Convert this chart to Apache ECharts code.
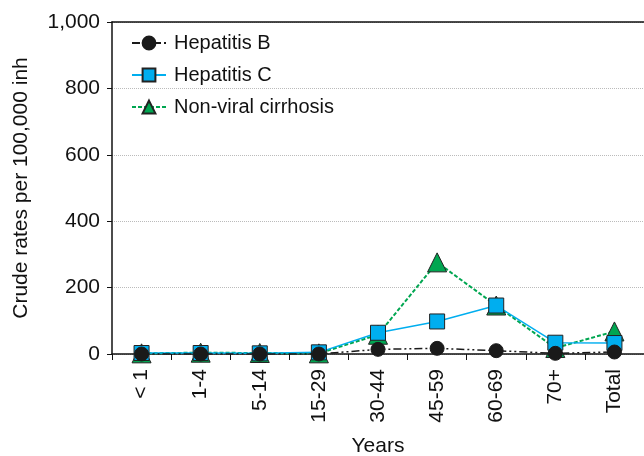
<!DOCTYPE html>
<html>
<head>
<meta charset="utf-8">
<script src="https://cdn.jsdelivr.net/npm/echarts@6/dist/echarts.min.js"></script>
<style>
  html, body { margin: 0; padding: 0; background: #fff; }
  #chart { width: 644px; height: 456px; }
</style>
</head>
<body>
<div id="chart"></div>
<script>
// age groups on the x axis
const categories = ['< 1', '1-4', '5-14', '15-29', '30-44', '45-59', '60-69', '70+', 'Total']

// crude rates per 100,000 inhabitants
const hepatitisB = [0, 0, 0, 0, 14, 17, 10, 2, 6]
const hepatitisC = [3, 3, 2, 5, 64, 98, 146, 34, 33]
const nonViral = [2, 4, 3, 2, 58, 276, 146, 18, 68]

const yTicks = [0, 200, 400, 600, 800, 1000]

const font = 'Liberation Sans, Arial, sans-serif'

const chart = echarts.init(document.getElementById('chart'))

const option = {
  animation: false,
  textStyle: { fontFamily: font },
  grid: { left: 112, right: 0, top: 22, bottom: 102, outerBoundsMode: 'none', containLabel: false },
  legend: {
    data: ['Hepatitis B', 'Hepatitis C', 'Non-viral cirrhosis'],
    orient: 'vertical',
    left: 126,
    top: 28,
    itemGap: 12,
    itemWidth: 34,
    itemHeight: 16,
    textStyle: { fontSize: 20, lineHeight: 20, color: '#111', fontFamily: font, padding: [0, 0, 0, 3] }
  },
  xAxis: [
    {
      type: 'category',
      data: categories,
      name: 'Years',
      nameLocation: 'middle',
      nameGap: 82,
      nameTextStyle: { fontSize: 21, color: '#111' },
      axisLine: { lineStyle: { color: '#111', width: 1.5 } },
      axisTick: { show: true, length: 6, lineStyle: { color: '#111' } },
      axisLabel: { rotate: 90, fontSize: 21, color: '#111', margin: 15 }
    },
    {
      type: 'category',
      position: 'top',
      data: categories,
      axisLine: { lineStyle: { color: '#111', width: 1.5 } },
      axisTick: { show: false },
      axisLabel: { show: false }
    }
  ],
  yAxis: {
    type: 'value',
    min: yTicks[0],
    max: yTicks[yTicks.length - 1],
    interval: 200,
    name: 'Crude rates per 100,000 inh',
    nameLocation: 'middle',
    nameGap: 80,
    nameTextStyle: { fontSize: 21, color: '#111' },
    axisLine: { show: true, lineStyle: { color: '#111', width: 1.5 } },
    axisTick: { show: true, length: 5, lineStyle: { color: '#111' } },
    axisLabel: {
      fontSize: 21,
      color: '#111',
      margin: 12,
      formatter: v => v.toLocaleString('en-US')
    },
    splitLine: { show: true, lineStyle: { color: '#bbb', type: 'dotted', width: 1 } }
  },
  series: [
    {
      name: 'Non-viral cirrhosis',
      type: 'line',
      data: nonViral,
      symbol: 'triangle',
      symbolSize: 19,
      itemStyle: { color: '#00a651', borderColor: '#222', borderWidth: 1 },
      lineStyle: { color: '#00a651', width: 2, type: [4, 2] },
      z: 2
    },
    {
      name: 'Hepatitis C',
      type: 'line',
      data: hepatitisC,
      symbol: 'rect',
      symbolSize: 15,
      itemStyle: { color: '#00aeef', borderColor: '#222', borderWidth: 1 },
      lineStyle: { color: '#00aeef', width: 1.5 },
      z: 3
    },
    {
      name: 'Hepatitis B',
      type: 'line',
      data: hepatitisB,
      symbol: 'circle',
      symbolSize: 14,
      itemStyle: { color: '#1a1a1a', borderColor: '#1a1a1a', borderWidth: 1 },
      lineStyle: { color: '#1a1a1a', width: 1.5, type: [8, 3, 2, 3, 2, 3] },
      z: 4
    }
  ]
}

chart.setOption(option)
</script>
</body>
</html>
